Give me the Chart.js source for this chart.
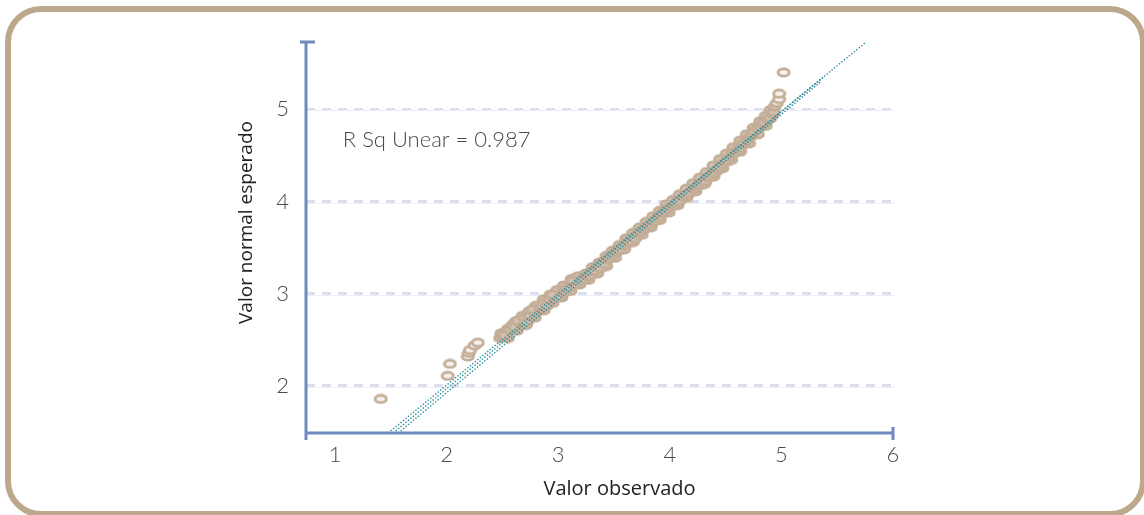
<!DOCTYPE html>
<html>
<head>
<meta charset="utf-8">
<script src="https://cdn.jsdelivr.net/npm/chart.js@4"></script>
<style>
  html, body { margin: 0; padding: 0; background: #fff; }
  #wrap { position: relative; width: 1144px; height: 515px; overflow: hidden; }
  #frame {
    position: absolute; left: 5px; top: 6px; width: 1141px; height: 511px;
    box-sizing: border-box; border: 6px solid #bca98b; border-radius: 36px;
    pointer-events: none;
  }
  canvas { position: absolute; left: 0; top: 0; }
</style>
</head>
<body>
<div id="wrap">
  <canvas id="qq" width="1144" height="515"></canvas>
  <div id="frame"></div>
</div>
<script>
// =========================
// データ
// =========================
const xTicks = [1, 2, 3, 4, 5, 6];
const yTicks = [2, 3, 4, 5];

// 観測値（帯の中心）
const obsX = [
  1.41, 2.01, 2.03, 2.19, 2.20, 2.21, 2.25, 2.28,
  2.48, 2.50, 2.52, 2.57, 2.59, 2.61, 2.66, 2.64, 2.70, 2.72, 2.75, 2.79,
  2.77, 2.84, 2.86, 2.88, 2.90, 2.93, 2.97, 2.95, 3.02, 3.04, 3.06, 3.08,
  3.11, 3.15, 3.13, 3.20, 3.22, 3.24, 3.27, 3.29, 3.30, 3.33, 3.36, 3.38,
  3.40, 3.42, 3.44, 3.46, 3.49, 3.51, 3.53, 3.55, 3.58, 3.60, 3.62, 3.64,
  3.67, 3.69, 3.71, 3.73, 3.76, 3.78, 3.80, 3.82, 3.85, 3.87, 3.89, 3.91,
  3.93, 3.96, 3.98, 4.00, 4.03, 4.05, 4.07, 4.09, 4.12, 4.14, 4.16, 4.18,
  4.21, 4.23, 4.25, 4.27, 4.29, 4.32, 4.34, 4.36, 4.38, 4.41, 4.43, 4.45,
  4.47, 4.50, 4.52, 4.54, 4.56, 4.58, 4.61, 4.63, 4.65, 4.67, 4.70, 4.72,
  4.74, 4.76, 4.79, 4.81, 4.83, 4.85, 4.88, 4.90, 4.92, 4.93, 4.94, 4.96,
  4.98, 4.98, 5.02
];
// 期待正規値（帯の中心）
const expY = [
  1.86, 2.11, 2.24, 2.32, 2.36, 2.39, 2.44, 2.47,
  2.52, 2.54, 2.55, 2.61, 2.66, 2.64, 2.68, 2.71, 2.73, 2.69, 2.76, 2.80,
  2.83, 2.83, 2.86, 2.90, 2.87, 2.93, 2.95, 2.99, 2.97, 3.01, 3.02, 3.06,
  3.07, 3.10, 3.14, 3.14, 3.16, 3.16, 3.19, 3.20, 3.24, 3.25, 3.29, 3.28,
  3.33, 3.32, 3.37, 3.39, 3.42, 3.44, 3.46, 3.48, 3.52, 3.53, 3.56, 3.57,
  3.61, 3.60, 3.64, 3.67, 3.70, 3.71, 3.74, 3.75, 3.78, 3.79, 3.82, 3.84,
  3.87, 3.90, 3.92, 3.94, 3.96, 3.98, 4.00, 4.01, 4.05, 4.07, 4.08, 4.10,
  4.13, 4.15, 4.18, 4.18, 4.21, 4.22, 4.26, 4.27, 4.30, 4.32, 4.35, 4.37,
  4.40, 4.43, 4.45, 4.48, 4.51, 4.53, 4.56, 4.58, 4.62, 4.64, 4.67, 4.70,
  4.73, 4.76, 4.79, 4.81, 4.84, 4.86, 4.89, 4.90, 4.95, 4.97, 5.03, 5.07,
  5.11, 5.17, 5.40
];

// 帯の上側の点
const upperX = [
  2.49, 2.55, 2.62, 2.68, 2.74, 2.80, 2.87, 2.93, 2.99, 3.05, 3.12, 3.18,
  3.25, 3.31, 3.37, 3.43, 3.49, 3.55, 3.61, 3.67, 3.73, 3.79, 3.85, 3.91,
  3.97, 4.03, 4.09, 4.15, 4.21, 4.27, 4.33, 4.39, 4.45, 4.51, 4.57, 4.63,
  4.69, 4.75, 4.81, 4.86, 4.90
];
const upperY = [
  2.57, 2.62, 2.70, 2.76, 2.81, 2.87, 2.94, 2.99, 3.04, 3.09, 3.16, 3.19,
  3.22, 3.29, 3.34, 3.41, 3.47, 3.53, 3.60, 3.66, 3.72, 3.78, 3.84, 3.90,
  3.97, 4.02, 4.08, 4.14, 4.20, 4.26, 4.32, 4.39, 4.46, 4.52, 4.59, 4.66,
  4.73, 4.80, 4.87, 4.93, 4.99
];

// 帯の下側の点
const lowerX = [
  2.55, 2.63, 2.71, 2.79, 2.87, 2.95, 3.03, 3.11, 3.19, 3.27, 3.35, 3.43,
  3.51, 3.59, 3.67, 3.75, 3.83, 3.91, 3.99, 4.07, 4.15, 4.23, 4.31, 4.39,
  4.47, 4.55, 4.63, 4.71, 4.79, 4.86
];
const lowerY = [
  2.52, 2.60, 2.66, 2.74, 2.82, 2.90, 2.96, 3.03, 3.10, 3.15, 3.22, 3.30,
  3.39, 3.48, 3.56, 3.64, 3.72, 3.80, 3.88, 3.96, 4.04, 4.11, 4.19, 4.27,
  4.36, 4.45, 4.54, 4.63, 4.73, 4.82
];

// 近似直線（点線3本）
const fitX1 = [1.476, 5.76];
const fitY1 = [1.49, 5.73];
const fitX2 = [1.521, 5.373];
const fitY2 = [1.49, 5.347];
const fitX3 = [1.566, 5.346];
const fitY3 = [1.49, 5.293];

const rSqText = "R Sq Unear = 0.987";
const xTitle = "Valor observado";
const yTitle = "Valor normal esperado";

// =========================
// 見た目
// =========================
const AXIS_COLOR = "#6f8bbd";
const RING_COLOR = "#c3ad97";
const FIT_COLOR = "#2a8c9c";
const TICK_FONT = { family: "Lato", size: 22, weight: "300" };

function makeRing(fill) {
  const c = document.createElement("canvas");
  c.width = 15;
  c.height = 11;
  const g = c.getContext("2d");
  g.fillStyle = fill;
  g.strokeStyle = RING_COLOR;
  g.lineWidth = 2.8;
  g.beginPath();
  g.ellipse(7.5, 5.5, 5.6, 3.7, 0, 0, Math.PI * 2);
  g.fill();
  g.stroke();
  return c;
}

function toPoints(xs, ys) {
  return xs.map((x, i) => ({ x, y: ys[i] }));
}

function fitLine(xs, ys) {
  return {
    data: toPoints(xs, ys),
    showLine: true,
    borderColor: FIT_COLOR,
    borderWidth: 1.4,
    borderDash: [1.4, 1.8],
    pointRadius: 0,
    fill: false,
  };
}

// 帯の中は重なって塗りつぶしに見える、離れた点は白抜き
function pointSet(xs, ys, ringLight, ringDense) {
  return {
    data: toPoints(xs, ys),
    pointStyle: (c) => (c.raw && (c.raw.y < 2.5 || c.raw.y > 5.05) ? ringLight : ringDense),
    pointRadius: 6,
  };
}

// =========================
// 軸・注記の描画
// =========================
const decor = {
  id: "decor",
  beforeDatasetsDraw(chart) {
    const { ctx, chartArea: a, scales } = chart;
    ctx.save();
    ctx.strokeStyle = "#eceef5";
    ctx.lineWidth = 1;
    yTicks.forEach((v) => {
      const py = Math.round(scales.y.getPixelForValue(v)) + 1.5;
      ctx.beginPath();
      ctx.moveTo(a.left, py);
      ctx.lineTo(a.right + 2, py);
      ctx.stroke();
    });
    ctx.restore();
  },
  afterDraw(chart) {
    const { ctx, chartArea: a, scales } = chart;
    ctx.save();
    // 軸線
    ctx.strokeStyle = AXIS_COLOR;
    ctx.lineWidth = 3;
    ctx.beginPath();
    ctx.moveTo(a.left, a.top);
    ctx.lineTo(a.left, a.bottom + 7);
    ctx.moveTo(a.left - 1, a.bottom);
    ctx.lineTo(a.right, a.bottom);
    // キャップ
    ctx.moveTo(a.left - 6, a.top);
    ctx.lineTo(a.left + 9, a.top);
    ctx.moveTo(a.right, a.bottom - 6);
    ctx.lineTo(a.right, a.bottom + 7);
    ctx.stroke();

    // R²
    ctx.fillStyle = "#4a4a4a";
    ctx.font = "300 22px Lato";
    ctx.textAlign = "left";
    ctx.textBaseline = "middle";
    ctx.fillText(rSqText, scales.x.getPixelForValue(1.07), scales.y.getPixelForValue(4.67));

    // 軸タイトル
    ctx.fillStyle = "#222";
    ctx.textAlign = "center";
    ctx.font = "20px 'Open Sans'";
    ctx.fillText(xTitle, (a.left + a.right) / 2 + 20, a.bottom + 56);
    ctx.font = "19px 'Open Sans'";
    ctx.translate(a.left - 59, (a.top + a.bottom) / 2 - 15);
    ctx.rotate(-Math.PI / 2);
    ctx.fillText(yTitle, 0, 0);
    ctx.restore();
  },
};

// =========================
// メイン処理
// =========================
window.addEventListener("DOMContentLoaded", () => {
  const ringLight = makeRing("#f7f2ee");
  const ringDense = makeRing("#d3c2b2");
  const ctx = document.getElementById("qq");

  new Chart(ctx, {
    type: "scatter",
    data: {
      // 先頭のデータセットが一番上に描かれる
      datasets: [
        fitLine(fitX1, fitY1),
        fitLine(fitX2, fitY2),
        fitLine(fitX3, fitY3),
        pointSet(obsX, expY, ringLight, ringDense),
        pointSet(upperX, upperY, ringLight, ringDense),
        pointSet(lowerX, lowerY, ringLight, ringDense),
      ],
    },
    options: {
      responsive: false,
      animation: false,
      devicePixelRatio: 1,
      layout: { padding: { left: 237, right: 251, top: 42, bottom: 0 } },
      plugins: { legend: { display: false }, tooltip: { enabled: false } },
      scales: {
        x: {
          type: "linear",
          min: 0.74,
          max: 6,
          afterBuildTicks: (s) => { s.ticks = xTicks.map((v) => ({ value: v })); },
          afterFit: (s) => { s.height = 82; },
          grid: { display: false, drawTicks: false },
          border: { display: false },
          ticks: { font: TICK_FONT, color: "#4a4a4a", padding: 9 },
        },
        y: {
          type: "linear",
          min: 1.49,
          max: 5.73,
          afterBuildTicks: (s) => { s.ticks = yTicks.map((v) => ({ value: v })); },
          afterFit: (s) => { s.width = 69; },
          grid: { color: "#dcdfed", lineWidth: 3, drawTicks: false },
          border: { display: false, dash: [9, 7] },
          ticks: { font: TICK_FONT, color: "#4a4a4a", padding: 17 },
        },
      },
    },
    plugins: [decor],
  });
});
</script>
</body>
</html>
